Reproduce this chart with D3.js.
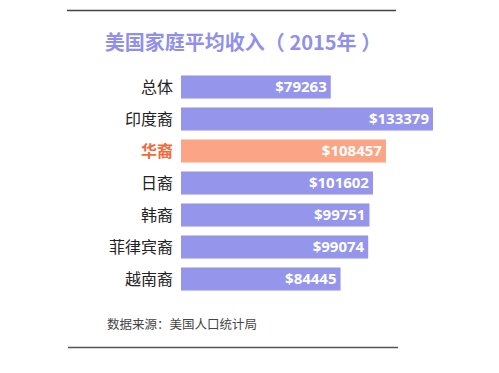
<!DOCTYPE html>
<html>
<head>
<meta charset="UTF-8">
<style>
html, body { margin:0; padding:0; background:#fff; }
svg { display:block; font-family:"Noto Sans CJK SC", "Noto Sans", sans-serif; }
</style>
</head>
<body>
<svg width="499" height="373"></svg>
<script src="https://d3js.org/d3.v7.min.js"></script>
<script>
var groups = ["总体", "印度裔", "华裔", "日裔", "韩裔", "菲律宾裔", "越南裔"];
var incomes = [79263, 133379, 108457, 101602, 99751, 99074, 84445];
var highlight = "华裔";

var svg = d3.select("svg");

var x = d3.scaleLinear().domain([0, 133379]).range([181, 433]);
var y = d3.scaleBand().domain(groups).range([71, 295]).paddingInner(0.28).paddingOuter(0.14);

// rules top & bottom
svg.append("line").attr("x1", 67).attr("x2", 396).attr("y1", 10.5).attr("y2", 10.5)
  .attr("stroke", "#444").attr("stroke-width", 1.5);
svg.append("line").attr("x1", 68).attr("x2", 398).attr("y1", 347.5).attr("y2", 347.5)
  .attr("stroke", "#555").attr("stroke-width", 1.5);

svg.append("text")
  .attr("x", 243).attr("y", 50)
  .attr("text-anchor", "middle")
  .attr("font-size", 20).attr("font-weight", "bold")
  .attr("fill", "#9090ea")
  .attr("xml:space", "preserve")
  .text("美国家庭平均收入（ 2015年 ）");

var rows = svg.append("g").selectAll("g")
  .data(groups)
  .enter().append("g");

rows.append("rect")
  .attr("x", x(0))
  .attr("y", function(d) { return y(d); })
  .attr("width", function(d, i) { return x(incomes[i]) - x(0); })
  .attr("height", y.bandwidth())
  .attr("fill", function(d) { return d == highlight ? "#fca586" : "#9595ec"; });

rows.append("text")
  .attr("x", 173)
  .attr("y", function(d) { return y(d) + y.bandwidth() / 2; })
  .attr("dy", "0.36em")
  .attr("text-anchor", "end")
  .attr("font-size", 16)
  .attr("font-weight", function(d) { return d == highlight ? "bold" : "normal"; })
  .attr("fill", function(d) { return d == highlight ? "#f26a3a" : "#222"; })
  .text(function(d) { return d; });

rows.append("text")
  .attr("x", function(d, i) { return x(incomes[i]) - 4; })
  .attr("y", function(d) { return y(d) + y.bandwidth() / 2; })
  .attr("dy", "0.36em")
  .attr("text-anchor", "end")
  .attr("font-family", "'Open Sans', 'Noto Sans', sans-serif")
  .attr("font-size", 15)
  .attr("font-weight", "bold")
  .attr("fill", "#fff")
  .text(function(d, i) { return "$" + incomes[i]; });

svg.append("text")
  .attr("x", 107).attr("y", 329)
  .attr("font-size", 12.5)
  .attr("fill", "#444")
  .text("数据来源：美国人口统计局");
</script>
</body>
</html>
